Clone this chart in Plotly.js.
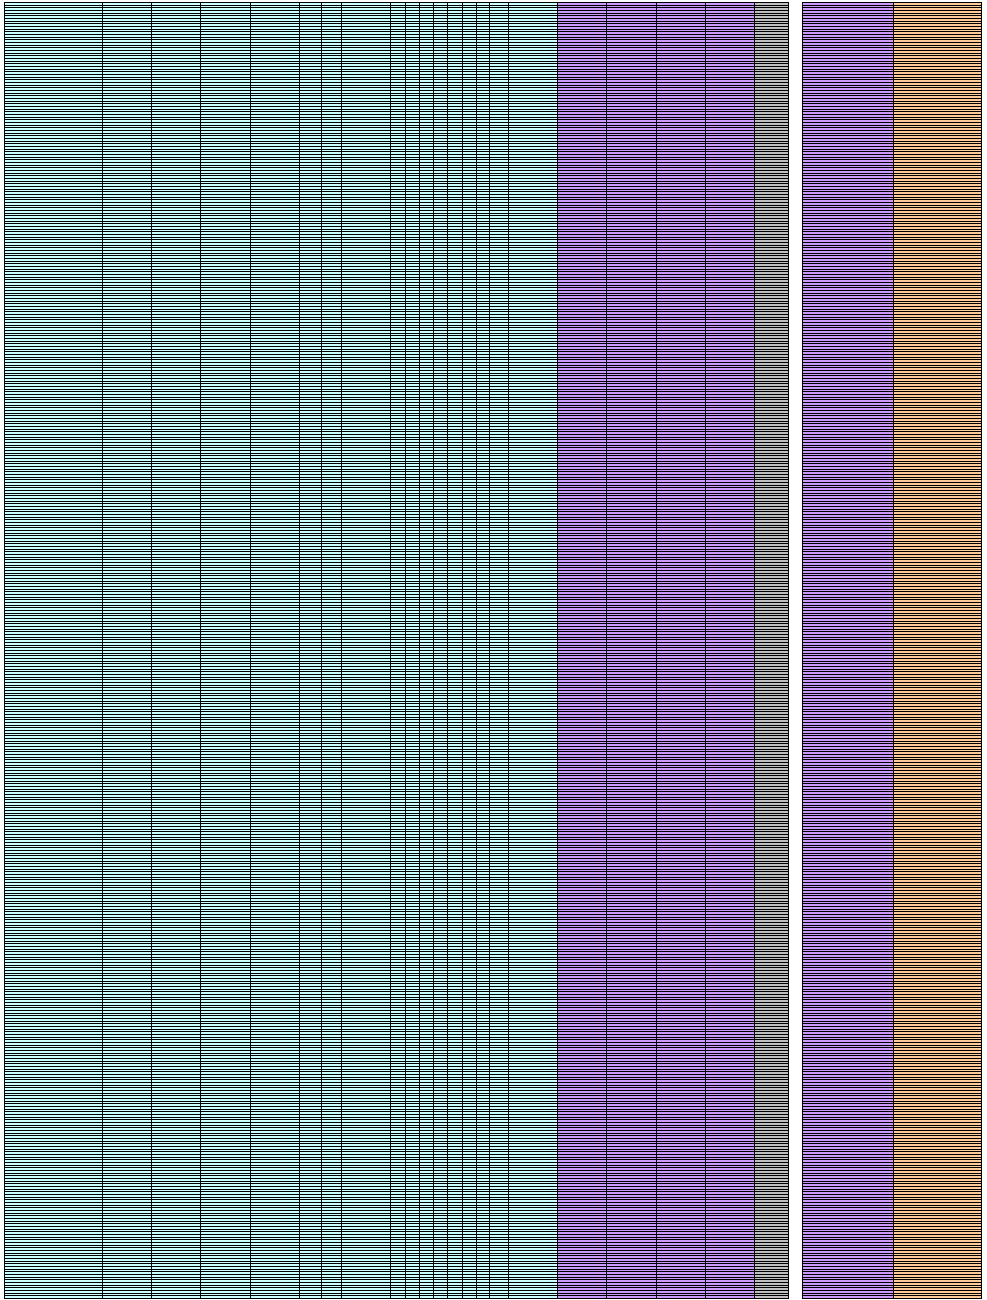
<!DOCTYPE html>
<html>
<head>
<meta charset="utf-8">
<script src="https://cdn.plot.ly/plotly-3.0.1.min.js"></script>
<style>
  html, body { margin: 0; padding: 0; background: #ffffff; }
  #chart { width: 987px; height: 1300px; }
</style>
</head>
<body>
<div id="chart"></div>
<script>
// Column widths of the sheet grid (left to right), incl. the blank spacer column
const columnWidths = [98, 49, 49, 50, 49, 22, 20, 49, 15, 14, 14, 14, 15, 14, 13, 19,
                      49, 49, 50, 49, 49, 34, 14, 91, 88];
// Fill category of each column
const columnFill = ['cyan','cyan','cyan','cyan','cyan','cyan','cyan','cyan','cyan','cyan','cyan',
                    'cyan','cyan','cyan','cyan','cyan','cyan',
                    'purple','purple','purple','purple','gray','blank','purple','orange'];
// Number of (empty) rows in the grid
const rowCount = 486;
// Fill categories and colours (last one = grid line)
const fillNames  = ['cyan', 'purple', 'gray', 'orange', 'blank', 'line'];
const fillColors = ['#CCFFFF', '#CC99FF', '#C0C0C0', '#FFCC99', '#FFFFFF', '#000000'];

// ---- layout geometry (pixels) ----
const marginL = 4, marginT = 2;
const lineW = 1;                                   // grid line thickness in px
const totalWidth = columnWidths.reduce((a, b) => a + b, 0);
const plotW = totalWidth + lineW;
const plotH = 1297;
const rowPx = (plotH - lineW) / rowCount;

// ---- build grid bricks from the arrays ----
// x: each column boundary becomes a thin line band, columns become fill bands
const xBounds = [0];
columnWidths.forEach(w => xBounds.push(xBounds[xBounds.length - 1] + w));
const hx = lineW / 2;
const xEdges = [];
xBounds.forEach(b => { xEdges.push(b - hx, b + hx); });

// y: row boundaries in row units
const hy = (lineW / 2) / rowPx;
const yEdges = [];
for (let k = 0; k <= rowCount; k++) { yEdges.push(k - 0.5 - hy, k - 0.5 + hy); }

const code = name => fillNames.indexOf(name);
const nXB = xEdges.length - 1, nYB = yEdges.length - 1;
const z = [];
for (let j = 0; j < nYB; j++) {
  const rowIsLine = (j % 2 === 0);
  const r = [];
  for (let i = 0; i < nXB; i++) {
    if (i % 2 === 0) { r.push(code('line')); continue; }
    const col = (i - 1) / 2;
    const f = columnFill[col];
    if (f === 'blank') r.push(code('blank'));
    else r.push(rowIsLine ? code('line') : code(f));
  }
  z.push(r);
}
const nCat = fillNames.length - 1;
const colorscale = fillColors.map((c, i) => [i / nCat, c]);

const traces = [{
  type: 'heatmap',
  x: xEdges,
  y: yEdges,
  z: z,
  zmin: 0, zmax: nCat,
  colorscale: colorscale,
  showscale: false,
  zsmooth: false,
  hoverinfo: 'skip'
}];

const layout = {
  width: 987, height: 1300,
  margin: {l: marginL, r: 987 - marginL - plotW, t: marginT, b: 1300 - marginT - plotH, pad: 0},
  paper_bgcolor: '#ffffff',
  plot_bgcolor: '#ffffff',
  showlegend: false,
  xaxis: {visible: false, range: [-hx, totalWidth + hx], fixedrange: true},
  yaxis: {visible: false, range: [rowCount - 0.5 + hy, -0.5 - hy], fixedrange: true}
};

Plotly.newPlot('chart', traces, layout, {displayModeBar: false, staticPlot: true});
</script>
</body>
</html>
